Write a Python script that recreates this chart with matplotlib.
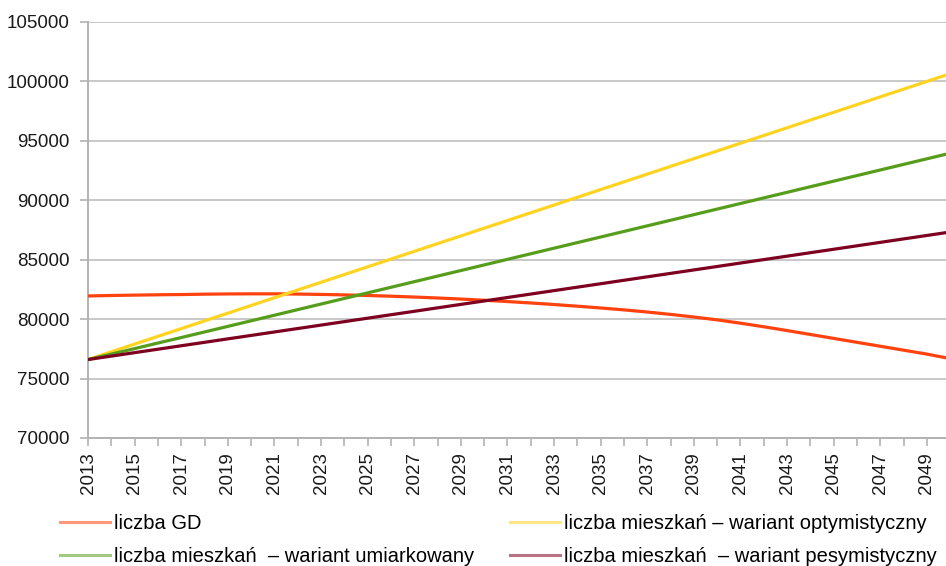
"""Liczba GD vs. prognozy liczby mieszkańców (3 warianty), 2013-2050."""

import matplotlib

matplotlib.use("Agg")

import matplotlib.pyplot as plt  # noqa: E402
from matplotlib.lines import Line2D  # noqa: E402
from matplotlib.ticker import MultipleLocator  # noqa: E402

plt.rcParams["font.family"] = ["Liberation Sans", "DejaVu Sans"]

years = list(range(2013, 2051))

liczba_gd = [
    81950, 81990, 82020, 82050, 82070, 82100, 82120, 82130, 82130, 82110,
    82080, 82040, 81990, 81930, 81860, 81780, 81690, 81590, 81480, 81360,
    81230, 81090, 80940, 80780, 80600, 80400, 80180, 79940, 79660, 79360,
    79040, 78710, 78380, 78050, 77720, 77390, 77060, 76680,
]
wariant_optymistyczny = [
    76600, 77250, 77900, 78550, 79200, 79850, 80500, 81150, 81800, 82450,
    83100, 83750, 84400, 85050, 85700, 86350, 87000, 87650, 88300, 88950,
    89600, 90250, 90900, 91550, 92200, 92850, 93500, 94150, 94800, 95450,
    96100, 96750, 97400, 98050, 98700, 99350, 100000, 100650,
]
wariant_umiarkowany = [
    76600, 77060, 77520, 77990, 78450, 78920, 79390, 79860, 80330, 80800,
    81270, 81740, 82210, 82680, 83150, 83620, 84090, 84560, 85030, 85500,
    85970, 86440, 86910, 87380, 87850, 88320, 88790, 89260, 89730, 90200,
    90670, 91140, 91610, 92080, 92550, 93020, 93490, 93960,
]
wariant_pesymistyczny = [
    76600, 76890, 77180, 77470, 77760, 78050, 78340, 78630, 78920, 79210,
    79500, 79790, 80080, 80370, 80660, 80950, 81240, 81530, 81820, 82110,
    82400, 82690, 82980, 83270, 83560, 83850, 84140, 84430, 84720, 85010,
    85300, 85590, 85880, 86170, 86460, 86750, 87040, 87330,
]

series = [
    ("liczba GD", liczba_gd, "#ff420e"),
    ("liczba mieszkań  – wariant umiarkowany", wariant_umiarkowany, "#579d1c"),
    ("liczba mieszkań – wariant optymistyczny", wariant_optymistyczny, "#ffd320"),
    ("liczba mieszkań  – wariant pesymistyczny", wariant_pesymistyczny, "#7e0021"),
]
# draw order as in the original (GD first, then optymistyczny, umiarkowany, pesymistyczny)
draw_order = [0, 2, 1, 3]

fig = plt.figure(figsize=(9.46, 5.66), dpi=100)
ax = fig.add_axes([88 / 946, 1 - 438 / 566, 1 - 88 / 946, (438 - 22) / 566])

for i in draw_order:
    label, values, color = series[i]
    ax.plot(years, values, color=color, linewidth=2.3, solid_capstyle="butt", zorder=3)

ax.set_xlim(2013, 2049.82)
ax.set_ylim(70000, 105000)
ax.yaxis.set_major_locator(MultipleLocator(5000))
ax.set_xticks(list(range(2013, 2050, 2)))
ax.set_xticks(list(range(2014, 2050, 2)), minor=True)
ax.grid(axis="y", color="#c8c8c8", linewidth=1.4, zorder=0)

for side in ("top", "right"):
    ax.spines[side].set_visible(False)
for side in ("left", "bottom"):
    ax.spines[side].set_color("#b3b3b3")
    ax.spines[side].set_linewidth(1.4)

ax.tick_params(axis="y", which="major", length=6, width=1.2, color="#b3b3b3",
               labelsize=13.5, pad=7, labelcolor="#1a1a1a")
ax.tick_params(axis="x", which="both", length=6, width=1.2, color="#b3b3b3",
               labelsize=13.5, pad=4, labelcolor="#1a1a1a", labelrotation=90)

# legend: two columns placed separately, pale handles like the original
handles = [Line2D([], [], color=c, linewidth=2.2, alpha=0.55) for _, _, c in series]
labels = [s[0] for s in series]
leg_kw = dict(frameon=False, fontsize=14.5, handlelength=2.5, handletextpad=0.2,
              labelspacing=0.72, borderpad=0, borderaxespad=0, loc="upper left")
leg1 = fig.legend(handles[:2], labels[:2], bbox_to_anchor=(60 / 946, 1 - 514 / 566), **leg_kw)
leg2 = fig.legend(handles[2:], labels[2:], bbox_to_anchor=(510 / 946, 1 - 514 / 566), **leg_kw)

fig.savefig("out.png", dpi=100)
plt.close(fig)
